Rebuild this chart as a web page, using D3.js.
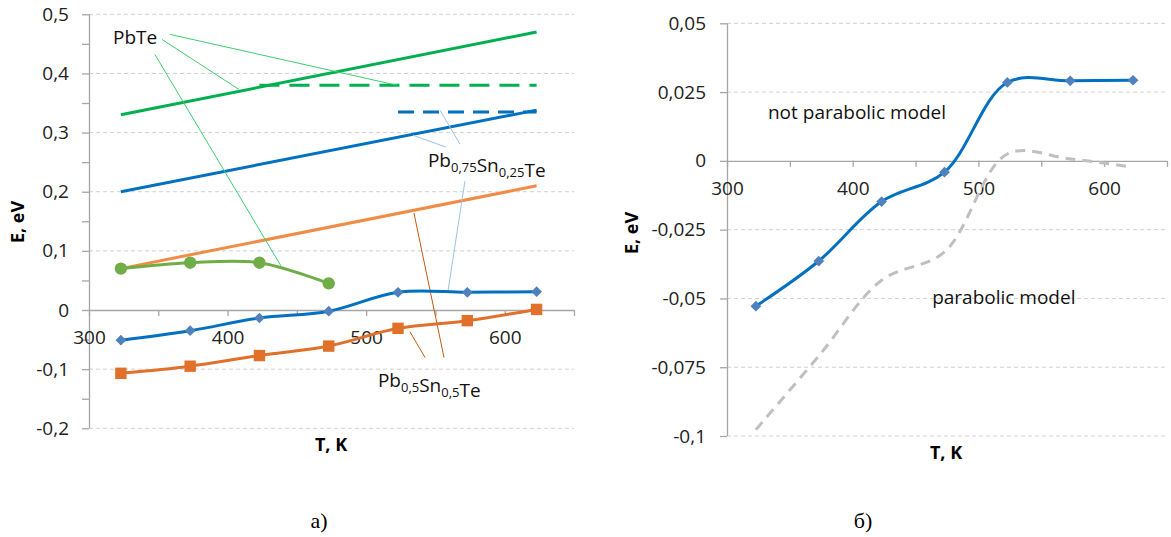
<!DOCTYPE html>
<html>
<head>
<meta charset="utf-8">
<script src="https://cdn.jsdelivr.net/npm/d3@7"></script>
<style>
  body { margin: 0; background: #fff; }
  svg { display: block; font-family: "Open Sans", sans-serif; }
</style>
</head>
<body>
<svg id="chart" width="1171" height="537"></svg>
<script>
// temperatures, K
const temps = [323, 373, 423, 473, 523, 573, 623];
// panel a): measured curves
const pbTe = [0.07, 0.08, 0.08, 0.045];
const pb75 = [-0.051, -0.035, -0.0135, -0.002, 0.030, 0.030, 0.031];
const pb50 = [-0.107, -0.095, -0.077, -0.061, -0.031, -0.018, 0.001];
// panel a): straight reference lines
const trendT = [323, 623];
const pbTeTrend = [0.33, 0.47];
const pb75Trend = [0.2, 0.338];
const pb50Trend = [0.07, 0.21];
const pbTeLevelT = [423, 623];
const pbTeLevel = [0.38, 0.38];
const pb75LevelT = [523, 623];
const pb75Level = [0.335, 0.335];
// panel б)
const notParabolic = [-0.0528, -0.0364, -0.0148, -0.0041, 0.0285, 0.0291, 0.0293];
const parabolic = [-0.0977, -0.0709, -0.0434, -0.0331, 0.0025, 0.0007, -0.0023];
// tick values
const xTicks = [300, 350, 400, 450, 500, 550, 600, 650];
const xLabels = [300, 400, 500, 600];
const yTicksA = d3.range(-4, 11).map(i => i * 0.05);
const yLabelsA = d3.range(-2, 6).map(i => i * 0.1);
const yTicksB = d3.range(-4, 3).map(i => i * 0.025);

const svg = d3.select('#chart');
svg.append('rect').attr('width', 1171).attr('height', 537).attr('fill', '#fff');

const loc = d3.formatLocale({decimal: ',', thousands: ' ', grouping: [3], currency: ['', ''], minus: '-'});
const fmt = loc.format('~g');
const num = v => fmt(+v.toFixed(4));

const zip = (xs, ys) => ys.map((v, i) => [xs[i], v]);

const diamond = {
  draw(ctx, size) {
    const r = Math.sqrt(size) / 2;
    ctx.moveTo(0, -r); ctx.lineTo(r, 0); ctx.lineTo(0, r); ctx.lineTo(-r, 0); ctx.closePath();
  }
};

function drawAxes(g, x, y, ticksY, labelsY, tickPadY) {
  // gridlines
  g.append('g').selectAll('line')
    .data(labelsY.filter(v => Math.abs(v) > 1e-9))
    .join('line')
    .attr('x1', x.range()[0]).attr('x2', x.range()[1])
    .attr('y1', d => y(d)).attr('y2', d => y(d))
    .attr('stroke', '#d0d0d0').attr('stroke-dasharray', '4,3');

  const labelSet = new Set(labelsY.map(v => v.toFixed(4)));
  const ya = g.append('g').attr('transform', `translate(${x.range()[0]},0)`)
    .call(d3.axisLeft(y).tickValues(ticksY).tickSize(7).tickPadding(tickPadY)
      .tickFormat(d => labelSet.has(d.toFixed(4)) ? num(d) : ''));
  const xa = g.append('g').attr('transform', `translate(0,${y(0)})`)
    .call(d3.axisBottom(x).tickValues(xTicks).tickSize(6).tickPadding(15)
      .tickFormat(d => xLabels.includes(d) ? d : ''));
  [ya, xa].forEach(a => {
    a.select('.domain').attr('stroke', '#a6a6a6').attr('stroke-width', 1.3);
    a.selectAll('.tick line').attr('stroke', '#a6a6a6').attr('stroke-width', 1.3);
    a.selectAll('text').attr('font-size', 19).attr('fill', '#222')
      .attr('font-family', '"Open Sans", sans-serif');
  });
  ya.select('.domain').attr('d', `M0.5,${y.range()[0]}V${y.range()[1]}`);
  xa.select('.domain').attr('d', `M${x.range()[0]},0.5H${x.range()[1]}`);
}

// ---------- panel a) ----------
const xA = d3.scaleLinear().domain([300, 650]).range([89, 574]);
const yA = d3.scaleLinear().domain([-0.2, 0.5]).range([428.3, 14.3]);
const gA = svg.append('g');
drawAxes(gA, xA, yA, yTicksA, yLabelsA, 13);

const straight = d3.line().x(d => xA(d[0])).y(d => yA(d[1]));
const smoothA = d3.line().x(d => xA(d[0])).y(d => yA(d[1])).curve(d3.curveCatmullRom.alpha(0.5));

const linesA = [
  {pts: zip(trendT, pbTeTrend), color: '#00b050', dash: null},
  {pts: zip(trendT, pb75Trend), color: '#0070c0', dash: null},
  {pts: zip(trendT, pb50Trend), color: '#f08c45', dash: null},
  {pts: zip(pbTeLevelT, pbTeLevel), color: '#00b050', dash: '20,10'},
  {pts: zip(pb75LevelT, pb75Level), color: '#0070c0', dash: '16,9'}
];
gA.append('g').selectAll('path').data(linesA).join('path')
  .attr('d', d => straight(d.pts))
  .attr('fill', 'none').attr('stroke', d => d.color).attr('stroke-width', 3)
  .attr('stroke-dasharray', d => d.dash);

// leader lines (data coordinates)
const leaders = [
  {c: '#3ccf6e', p: [[358.5, 0.466], [522.3, 0.380]]},
  {c: '#3ccf6e', p: [[352.7, 0.4575], [408.2, 0.373]]},
  {c: '#3ccf6e', p: [[347.6, 0.432], [438.5, 0.0747]]},
  {c: '#9dc3e6', p: [[557.6, 0.2755], [533.8, 0.2956]]},
  {c: '#9dc3e6', p: [[567.7, 0.2805], [553.3, 0.3378]]},
  {c: '#9dc3e6', p: [[571.3, 0.218], [559, 0.031]]},
  {c: '#c55a11', p: [[542.5, -0.0804], [531.6, -0.0366]]},
  {c: '#c55a11', p: [[556.2, -0.0804], [534.5, 0.164]]}
];
gA.append('g').selectAll('path').data(leaders).join('path')
  .attr('d', d => straight(d.p)).attr('stroke', d => d.c).attr('stroke-width', 1).attr('fill', 'none');

const seriesA = [
  {vals: pbTe, line: '#70ad47', mark: '#70ad47', sym: d3.symbolCircle, size: 120},
  {vals: pb75, line: '#0070c0', mark: '#4f81bd', sym: diamond, size: 115},
  {vals: pb50, line: '#e0702a', mark: '#e0702a', sym: d3.symbolSquare, size: 130}
];
seriesA.forEach(s => {
  const pts = zip(temps, s.vals);
  gA.append('path').attr('d', smoothA(pts)).attr('fill', 'none')
    .attr('stroke', s.line).attr('stroke-width', 3);
  gA.append('g').selectAll('path').data(pts).join('path')
    .attr('transform', d => `translate(${xA(d[0])},${yA(d[1])})`)
    .attr('d', d3.symbol(s.sym, s.size)).attr('fill', s.mark);
});

// labels
gA.append('text').attr('x', xA(317.3)).attr('y', yA(0.461)).attr('dy', '0.35em')
  .attr('font-size', 19).attr('fill', '#111').text('PbTe');

function subLabel(g, x, y, parts) {
  const t = g.append('text').attr('x', x).attr('y', y).attr('dy', '0.35em')
    .attr('font-size', 19).attr('fill', '#111');
  parts.forEach(([txt, sub]) => {
    t.append('tspan').text(txt);
    t.append('tspan').attr('dy', 5).attr('font-size', 13).text(sub);
    t.append('tspan').attr('dy', -5).text('');
  });
  return t;
}
const t75 = subLabel(gA, xA(544.6), yA(0.2535), [['Pb', '0,75'], ['Sn', '0,25']]);
t75.append('tspan').text('Te');
const t50 = subLabel(gA, xA(508.5), yA(-0.119), [['Pb', '0,5'], ['Sn', '0,5']]);
t50.append('tspan').text('Te');

gA.append('text').attr('transform', 'translate(24,222) rotate(-90)').attr('text-anchor', 'middle')
  .attr('font-size', 18).attr('font-weight', 'bold').text('E, eV');
gA.append('text').attr('x', 331).attr('y', 445).attr('dy', '0.35em').attr('text-anchor', 'middle')
  .attr('font-size', 18).attr('font-weight', 'bold').text('T, K');

// ---------- panel б) ----------
const xB = d3.scaleLinear().domain([300, 650]).range([727, 1167]);
const yB = d3.scaleLinear().domain([-0.1, 0.05]).range([436, 23.3]);
const gB = svg.append('g');
drawAxes(gB, xB, yB, yTicksB, yTicksB, 14);

const smoothB = d3.line().x(d => xB(d[0])).y(d => yB(d[1])).curve(d3.curveCatmullRom.alpha(0.5));
gB.append('path').attr('d', smoothB(zip(temps, parabolic))).attr('fill', 'none')
  .attr('stroke', '#c0c0c0').attr('stroke-width', 3).attr('stroke-dasharray', '10,7');
const npPts = zip(temps, notParabolic);
gB.append('path').attr('d', smoothB(npPts)).attr('fill', 'none')
  .attr('stroke', '#0070c0').attr('stroke-width', 3);
gB.append('g').selectAll('path').data(npPts).join('path')
  .attr('transform', d => `translate(${xB(d[0])},${yB(d[1])})`)
  .attr('d', d3.symbol(diamond, 115)).attr('fill', '#4f81bd');

gB.append('text').attr('x', xB(332.6)).attr('y', yB(0.0175)).attr('dy', '0.35em')
  .attr('font-size', 19).attr('fill', '#111').text('not parabolic model');
gB.append('text').attr('x', xB(463.2)).attr('y', yB(-0.0495)).attr('dy', '0.35em')
  .attr('font-size', 19).attr('fill', '#111').text('parabolic model');

gB.append('text').attr('transform', 'translate(638,233) rotate(-90)').attr('text-anchor', 'middle')
  .attr('font-size', 18).attr('font-weight', 'bold').text('E, eV');
gB.append('text').attr('x', 946).attr('y', 453).attr('dy', '0.35em').attr('text-anchor', 'middle')
  .attr('font-size', 18).attr('font-weight', 'bold').text('T, K');

// captions
svg.append('text').attr('x', 319).attr('y', 528).attr('text-anchor', 'middle')
  .attr('font-family', '"Liberation Serif", serif').attr('font-size', 22).text('а)');
svg.append('text').attr('x', 863).attr('y', 528).attr('text-anchor', 'middle')
  .attr('font-family', '"Liberation Serif", serif').attr('font-size', 22).text('б)');
</script>
</body>
</html>
